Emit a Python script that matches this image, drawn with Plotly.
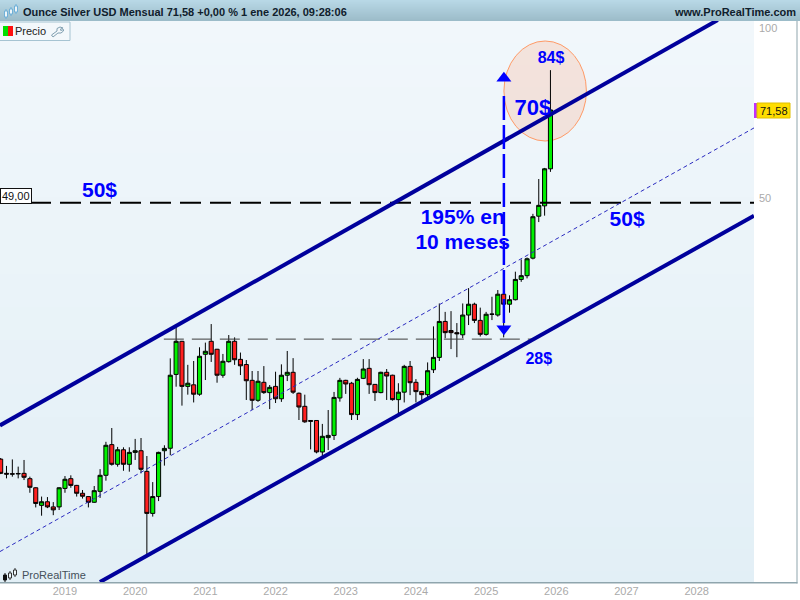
import numpy as np
import plotly.graph_objects as go

# monthly candles, Feb 2018 .. Dec 2025 (month index 0 = Jan 2019)
first_month = -11
opens = [17.22, 16.25, 16.22, 16.24, 16.25, 15.90, 15.32, 14.26, 14.47, 14.17, 14.17,
         15.28, 15.90, 15.47, 14.98, 14.78, 14.44, 15.10, 16.12, 18.27, 16.86, 17.89, 16.86,
         17.70, 17.82, 16.38, 13.80, 14.78, 17.82, 18.00, 24.33, 27.85, 23.17, 23.32, 22.44,
         26.41, 27.85, 26.96, 24.25, 25.63, 27.85, 25.87, 25.33, 23.75, 21.89, 23.56, 22.59,
         23.17, 22.03, 24.25, 24.54, 22.53, 21.36, 20.16, 20.16, 17.73, 18.80, 18.97, 22.10,
         23.75, 23.47, 20.65, 23.94, 24.94, 23.36, 22.59, 24.54, 24.25, 21.95, 22.63, 25.14,
         23.56, 22.70, 22.40, 24.80, 26.08, 30.20, 29.10, 28.85, 28.60, 31.00, 32.40, 30.33,
         28.65, 31.12, 31.00, 33.75, 32.40, 33.00, 35.85, 36.40, 39.10, 46.40, 48.40, 56.30]
highs = [17.30, 16.75, 17.20, 16.70, 17.16, 16.03, 15.35, 14.78, 14.75, 14.45, 15.35,
         16.07, 16.12, 15.50, 15.18, 14.80, 15.43, 16.53, 18.48, 19.55, 18.10, 18.07, 18.07,
         18.70, 18.77, 17.44, 15.68, 17.75, 18.22, 25.98, 29.60, 27.90, 25.30, 25.70, 27.18,
         27.70, 29.88, 27.00, 26.45, 28.57, 28.30, 26.60, 25.80, 24.67, 24.67, 25.17, 23.30,
         24.60, 25.35, 26.77, 26.00, 22.60, 22.40, 20.20, 20.20, 19.88, 21.04, 22.65, 23.99,
         23.80, 23.60, 24.00, 25.90, 25.90, 23.40, 24.60, 24.87, 24.30, 23.47, 25.30, 25.70,
         23.87, 22.75, 25.55, 29.60, 32.50, 31.40, 31.50, 30.00, 32.50, 34.60, 32.60, 31.95,
         31.40, 33.40, 34.33, 34.60, 33.60, 37.00, 38.90, 39.20, 46.85, 54.00, 56.50, 84.20]
lows = [16.20, 15.92, 16.03, 15.92, 15.81, 15.01, 14.14, 13.67, 14.10, 13.70, 13.99,
        15.01, 15.32, 14.78, 14.66, 14.14, 14.41, 14.70, 15.77, 16.77, 16.70, 16.42, 16.36,
        17.16, 16.25, 11.64, 13.62, 14.51, 16.77, 17.50, 23.14, 21.42, 22.40, 21.70, 22.30,
        23.78, 25.60, 23.52, 24.00, 25.53, 25.30, 24.27, 21.92, 21.04, 21.75, 22.47, 21.12,
        21.65, 21.75, 23.68, 22.47, 20.20, 19.97, 17.92, 17.63, 17.28, 17.87, 18.62, 21.77,
        22.47, 20.20, 20.20, 23.87, 22.47, 21.83, 22.53, 21.92, 21.86, 20.50, 21.70, 22.36,
        21.70, 21.86, 22.05, 24.47, 25.70, 28.20, 26.98, 26.10, 28.20, 29.76, 30.00, 28.40,
        28.50, 30.37, 30.80, 28.30, 31.30, 32.90, 35.50, 36.00, 38.90, 45.30, 46.50, 55.60]
closes = [16.25, 16.20, 16.20, 16.22, 15.99, 15.35, 14.37, 14.47, 14.17, 14.00, 15.32,
          15.86, 15.47, 14.98, 14.80, 14.44, 15.14, 16.12, 18.22, 16.86, 17.89, 16.86, 17.70,
          17.82, 16.52, 13.80, 14.78, 17.70, 17.99, 24.25, 27.85, 23.17, 23.47, 22.44, 26.20,
          26.74, 26.41, 24.25, 25.67, 27.85, 25.83, 25.20, 23.71, 21.89, 23.66, 22.59, 23.08,
          22.03, 24.25, 24.54, 22.63, 21.30, 20.05, 20.10, 17.73, 18.90, 18.97, 22.15, 23.75,
          23.40, 20.65, 23.84, 24.87, 23.33, 22.59, 24.54, 24.17, 21.95, 22.63, 25.14, 23.52,
          22.68, 22.40, 24.70, 26.08, 30.20, 28.85, 28.85, 28.72, 31.00, 32.40, 30.33, 28.65,
          31.10, 31.10, 33.75, 32.40, 33.00, 35.85, 36.40, 39.00, 46.30, 48.50, 56.30, 71.58]
months = list(range(first_month, first_month + len(opens)))

# trend channel
upper_x = [-11.11, 111.6]
upper_y = [19.76, 103.3]
lower_x = [5.98, 117.8]
lower_y = [10.43, 46.47]
mid_x = [-11.11, 117.8]
mid_y = [11.81, 66.52]

# levels
level_49_x = [-11.11, 117.8]
level_49_y = [49.0, 49.0]
level_28_x = [16.9, 80.3]
level_28_y = [28.1, 28.1]

# 195% arrow
arrow_x = [75.04, 75.04]
arrow_y = [75.8, 29.2]
head_x = [75.04, 75.04]
head_y = [81.5, 29.3]

note_text = ["84$", "70$", "50$", "195% en", "10 meses", "50$", "28$"]
note_x = [83.1, 80.0, 5.9, 68.0, 68.0, 96.1, 81.0]
note_y = [88.1, 71.8, 51.2, 45.9, 41.4, 45.5, 25.85]
note_size = [16, 22, 21, 21, 21, 21, 16]

year_ticks = [0, 12, 24, 36, 48, 60, 72, 84, 96, 108]
year_labels = ["2019", "2020", "2021", "2022", "2023", "2024", "2025", "2026", "2027", "2028"]
price_ticks = [50, 100]

W, H = 800, 600
L, R, T, B = 0, 46, 21, 18
PW, PH = W - L - R, H - T - B
FONT = "Liberation Sans, Arial, sans-serif"


def fx(px):
    return (px - L) / PW


def fy(py):
    return 1 - (py - T) / PH


def rect(x0, y0, x1, y1, fill, line=None, width=0, layer="above"):
    return dict(type="rect", xref="paper", yref="paper", x0=fx(x0), x1=fx(x1), y0=fy(y0), y1=fy(y1),
                fillcolor=fill, line=dict(color=line or fill, width=width), layer=layer)


def mix(c0, c1, t):
    return "rgb(%d,%d,%d)" % tuple(round(a + (b - a) * t) for a, b in zip(c0, c1))


def text(x, y, s, size=11, color="#222222", bold=False, anchor="left", **kw):
    return dict(xref="paper", yref="paper", x=fx(x), y=fy(y), text="<b>%s</b>" % s if bold else s, showarrow=False,
                xanchor=anchor, yanchor="middle", font=dict(family=FONT, size=size, color=color), **kw)


shapes = []
# plot background gradient
for k in np.arange(0, 561, 11):
    shapes.append(rect(0, 21 + k, 754, min(21 + k + 11, 582), mix((241, 247, 251), (226, 239, 246), k / 561), layer="below"))
# header gradient
for k in range(21):
    shapes.append(rect(0, k, 800, k + 1, mix((184, 216, 230), (156, 188, 201), k / 20)))
# right and bottom frame
shapes.append(rect(0, 582, 797.5, 583.5, "#8fa5ad"))
shapes.append(rect(796.5, 21, 797.5, 583.5, "#8fa5ad"))
# price label
shapes.append(rect(754, 103, 757, 118, "#c030ff"))
shapes.append(rect(757, 103, 790, 118, "#ffdd00", "#e0c000", 1))
# highlight ellipse
shapes.append(dict(type="circle", xref="x", yref="paper", x0=(504 - 65) / 5.85, x1=(586.5 - 65) / 5.85,
                   y0=fy(141), y1=fy(41), fillcolor="rgba(255,150,100,0.2)",
                   line=dict(color="#ff9a66", width=1), layer="below"))
# legend box
shapes.append(rect(-1, 22, 70, 40.5, "#f3f8fb", "#a6c4d2", 1))
shapes.append(rect(3, 26, 8, 36, "#00e000"))
shapes.append(rect(8, 26, 13, 36, "#ff1010"))
wrench = [(63, 28), (60, 27), (57, 28.5), (57, 31), (51.5, 35), (53, 37), (58, 33), (61, 33), (63.5, 31), (63.5, 29.5), (61, 30.5), (60, 29.5)]
shapes.append(dict(type="path", xref="paper", yref="paper", layer="above", line=dict(color="#7f9fb0", width=1),
                   path="M " + " L ".join("%.4f,%.4f" % (fx(a), fy(b)) for a, b in wrench) + " Z"))
# header logo and bottom logo candles
for cx, y0, y1, c in [(6, 9, 19, "#6fb0d8"), (11, 7, 16, "#6fb0d8"), (16, 4, 14, "#6fb0d8"),
                      (5, 573, 582, "#111111"), (10, 571, 580, "#333333"), (15, 568, 577, "#333333")]:
    shapes.append(rect(cx - 0.5, y0, cx + 0.5, y1, c))
    shapes.append(rect(cx - 1.5, y0 + 2, cx + 1.5, y1 - 2, c if cx == 5 else "#eef6fa", c, 1))

annotations = [
    text(21, 11.5, "Ounce Silver USD Mensual 71,58 +0,00 % 1 ene 2026, 09:28:06", size=11, color="#10202c", bold=True),
    text(798, 11.5, "www.ProRealTime.com", size=11, color="#10202c", bold=True, anchor="right"),
    text(13, 31.5, "Precio", size=11),
    text(20, 575, "ProRealTime", size=11, color="#44505a"),
    text(773.5, 110.5, "71,58", size=11, color="#111111", anchor="center"),
    text(16, 196, "49,00", size=11, color="#111111", anchor="center", bgcolor="#ffffff", bordercolor="#111111",
         borderwidth=1, borderpad=1),
]

fig = go.Figure()
fig.add_trace(go.Candlestick(x=months, open=opens, high=highs, low=lows, close=closes, whiskerwidth=0,
                             increasing=dict(fillcolor="#00f000", line=dict(color="#000000", width=1)),
                             decreasing=dict(fillcolor="#ff2020", line=dict(color="#000000", width=1)),
                             showlegend=False))
fig.add_trace(go.Scatter(x=level_28_x, y=level_28_y, mode="lines", line=dict(color="#3c3c3c", width=1, dash="20px,8px")))
fig.add_trace(go.Scatter(x=level_49_x, y=level_49_y, mode="lines", line=dict(color="#000000", width=2, dash="21px,9px")))
fig.add_trace(go.Scatter(x=mid_x, y=mid_y, mode="lines", line=dict(color="#2a2ac0", width=1, dash="4px,3px")))
fig.add_trace(go.Scatter(x=upper_x, y=upper_y, mode="lines", line=dict(color="#00009c", width=4)))
fig.add_trace(go.Scatter(x=lower_x, y=lower_y, mode="lines", line=dict(color="#00009c", width=4)))
fig.add_trace(go.Scatter(x=arrow_x, y=arrow_y, mode="lines", line=dict(color="#0000ff", width=2.5, dash="24px,5px")))
fig.add_trace(go.Scatter(x=head_x, y=head_y, mode="markers",
                         marker=dict(color="#0000ff", size=13, symbol=["triangle-up", "triangle-down"])))
fig.add_trace(go.Scatter(x=note_x, y=note_y, mode="text", text=note_text,
                         textfont=dict(family=FONT, size=note_size, color="#0000ff", weight="bold")))

fig.update_layout(
    width=W, height=H, margin=dict(l=L, r=R, t=T, b=B, pad=0), showlegend=False, boxgap=0.3, boxgroupgap=0,
    paper_bgcolor="#ffffff", plot_bgcolor="rgba(0,0,0,0)", shapes=shapes, annotations=annotations,
    xaxis=dict(range=[-11.11, 117.8], tickvals=year_ticks, ticktext=year_labels, showgrid=False, zeroline=False,
               rangeslider=dict(visible=False), ticks="", ticklabelstandoff=1,
               tickfont=dict(family=FONT, size=11, color="#aaaaaa")),
    yaxis=dict(type="log", range=[np.log10(10.43), np.log10(102.9)], side="right", tickvals=price_ticks,
               ticktext=[str(v) for v in price_ticks], showgrid=False, zeroline=False, ticks="", ticklabelstandoff=4,
               tickfont=dict(family=FONT, size=11, color="#aaaaaa")),
)

# the page's default body margin would push the chart off the window
fig.write_html("out.html", config=dict(displayModeBar=False), post_script="document.body.style.margin='0';")
